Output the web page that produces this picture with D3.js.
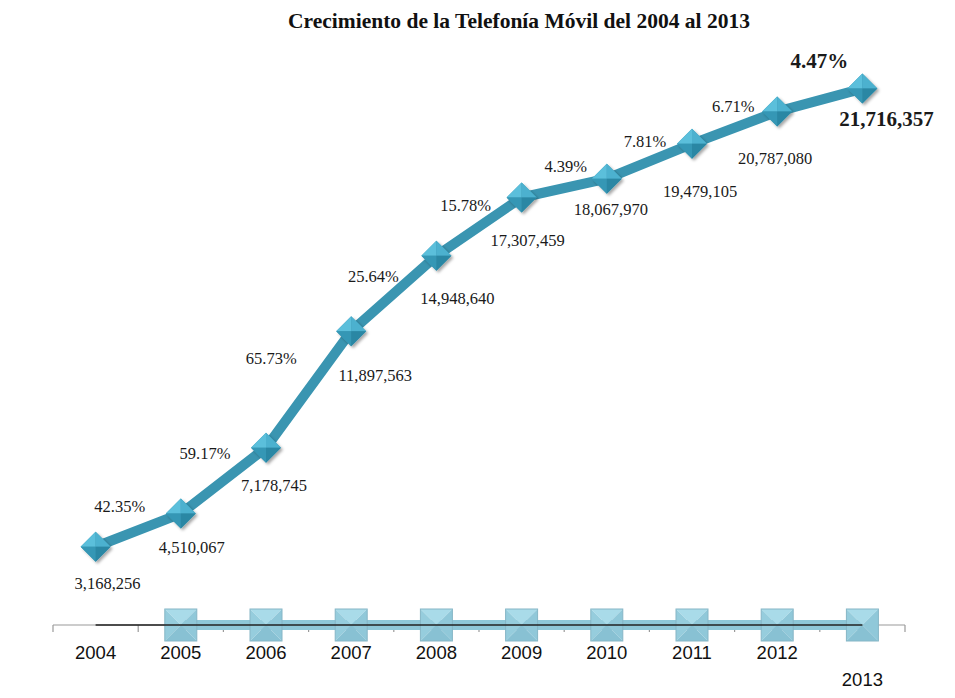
<!DOCTYPE html>
<html>
<head>
<meta charset="utf-8">
<title>Crecimiento de la Telefonía Móvil</title>
<script src="https://d3js.org/d3.v7.min.js"></script>
<style>
  body { margin: 0; background: #fff; }
  svg { display: block; }
</style>
</head>
<body>
<div id="chart"></div>
<script>
// datos
var years = ["2004", "2005", "2006", "2007", "2008", "2009", "2010", "2011", "2012", "2013"];
var lines = [3168256, 4510067, 7178745, 11897563, 14948640, 17307459, 18067970, 19479105, 20787080, 21716357];
var growth = [null, 42.35, 59.17, 65.73, 25.64, 15.78, 4.39, 7.81, 6.71, 4.47];

// posición de las etiquetas respecto al marcador (dx, dy)
var pctOffsets = [[0, 0], [-61, -7], [-61, 6], [-80, 27], [-63, 20], [-56, 8], [-41, -12], [-47, -3], [-44, -5], [-43, -28]];
var valOffsets = [[12, 36], [11, 34], [8, 38], [24, 44], [21, 42], [6, 43], [4, 31], [8, 47], [-2, 47], [24, 30]];

var width = 955, height = 698;

var svg = d3.select("#chart").append("svg")
    .attr("width", width)
    .attr("height", height);

var defs = svg.append("defs");
var shadow = defs.append("filter").attr("id", "shadow")
    .attr("x", "-30%").attr("y", "-30%").attr("width", "170%").attr("height", "170%");
shadow.append("feDropShadow")
    .attr("dx", 2).attr("dy", 2).attr("stdDeviation", 1.5)
    .attr("flood-color", "#000").attr("flood-opacity", 0.35);

var x = d3.scaleBand().domain(years).range([53, 905]);
var y = d3.scaleLinear().domain([0, 25000000]).range([625, 7.5]);
var cx = function(d) { return x(d) + x.bandwidth() / 2; };

// título
svg.append("text")
    .attr("x", 519).attr("y", 28)
    .attr("text-anchor", "middle")
    .style("font-family", "'Liberation Serif', 'Times New Roman', serif")
    .style("font-weight", "bold")
    .style("font-size", "21.5px")
    .style("fill", "#111")
    .text("Crecimiento de la Telefonía Móvil del 2004 al 2013");

// eje inferior
var axisG = svg.append("g").attr("transform", "translate(0," + y(0) + ")");
axisG.append("line")
    .attr("x1", 53).attr("x2", 905)
    .attr("stroke", "#9a9a9a").attr("stroke-width", 1.2);
var edges = years.map(function(d) { return x(d); }).concat([x.range()[1]]);
axisG.selectAll(".tick").data(edges).enter().append("line")
    .attr("x1", function(d) { return d; }).attr("x2", function(d) { return d; })
    .attr("y1", 0).attr("y2", 7)
    .attr("stroke", "#9a9a9a").attr("stroke-width", 1.2);

// banda celeste y cuadros
axisG.append("line")
    .attr("x1", cx(years[1])).attr("x2", cx(years[years.length - 1]))
    .attr("stroke", "#8ec7d8").attr("stroke-width", 10);

var sq = 16;
var squares = axisG.selectAll(".sq").data(years.slice(1)).enter().append("g")
    .attr("transform", function(d) { return "translate(" + cx(d) + ",0)"; });
var sqFaces = [
    { p: [[-sq, -sq], [sq, -sq], [0, 0]], c: "#a9dbe9" },
    { p: [[-sq, -sq], [-sq, sq], [0, 0]], c: "#96cddd" },
    { p: [[sq, -sq], [sq, sq], [0, 0]], c: "#90c8d9" },
    { p: [[-sq, sq], [sq, sq], [0, 0]], c: "#88c1d3" }
];
sqFaces.forEach(function(f) {
    squares.append("path")
        .attr("d", "M" + f.p.join("L") + "Z")
        .attr("fill", f.c);
});
squares.append("rect")
    .attr("x", -sq).attr("y", -sq).attr("width", sq * 2).attr("height", sq * 2)
    .attr("fill", "none").attr("stroke", "#86b6c6").attr("stroke-width", 1);

axisG.append("line")
    .attr("x1", cx(years[0])).attr("x2", cx(years[years.length - 1]))
    .attr("stroke", "#222").attr("stroke-width", 1.3);

// etiquetas del eje
svg.selectAll(".yr").data(years).enter().append("text")
    .attr("x", function(d) { return cx(d); })
    .attr("y", function(d, i) { return i === years.length - 1 ? 686 : 659; })
    .attr("text-anchor", "middle")
    .style("font-family", "'Liberation Sans', Arial, sans-serif")
    .style("font-size", "18.5px")
    .style("fill", "#111")
    .text(function(d) { return d; });

// línea principal
var line = d3.line()
    .x(function(d, i) { return cx(years[i]); })
    .y(function(d) { return y(d); });

svg.append("path")
    .datum(lines)
    .attr("d", line)
    .attr("fill", "none")
    .attr("stroke", "#3a95b1")
    .attr("stroke-width", 10)
    .attr("stroke-linejoin", "round");

// marcadores en rombo
var r = 15;
var markers = svg.selectAll(".mk").data(lines).enter().append("g")
    .attr("transform", function(d, i) { return "translate(" + cx(years[i]) + "," + y(d) + ")"; });
markers.append("path")
    .attr("d", "M0," + (-r) + "L" + r + ",0L0," + r + "L" + (-r) + ",0Z")
    .attr("fill", "#3a95b1")
    .attr("filter", "url(#shadow)");
var dmFaces = [
    { p: [[0, -r], [-r, 0], [0, 0]], c: "#5bbfdb" },
    { p: [[0, -r], [r, 0], [0, 0]], c: "#4cb1cf" },
    { p: [[-r, 0], [0, r], [0, 0]], c: "#3597b5" },
    { p: [[r, 0], [0, r], [0, 0]], c: "#2a87a4" }
];
dmFaces.forEach(function(f) {
    markers.append("path")
        .attr("d", "M" + f.p.join("L") + "Z")
        .attr("fill", f.c);
});

// etiquetas de valores
var fmt = d3.format(",");
var last = lines.length - 1;
svg.selectAll(".val").data(lines).enter().append("text")
    .attr("x", function(d, i) { return cx(years[i]) + valOffsets[i][0]; })
    .attr("y", function(d, i) { return y(d) + valOffsets[i][1]; })
    .attr("dy", "0.35em")
    .attr("text-anchor", "middle")
    .style("font-family", "'Liberation Serif', 'Times New Roman', serif")
    .style("font-size", function(d, i) { return i === last ? "21px" : "16.5px"; })
    .style("font-weight", function(d, i) { return i === last ? "bold" : "normal"; })
    .style("fill", "#1a1a1a")
    .text(function(d) { return fmt(d); });

// etiquetas de crecimiento
svg.selectAll(".pct").data(growth).enter().append("text")
    .attr("x", function(d, i) { return cx(years[i]) + pctOffsets[i][0]; })
    .attr("y", function(d, i) { return y(lines[i]) + pctOffsets[i][1]; })
    .attr("dy", "0.35em")
    .attr("text-anchor", "middle")
    .style("font-family", "'Liberation Serif', 'Times New Roman', serif")
    .style("font-size", function(d, i) { return i === last ? "21px" : "16.5px"; })
    .style("font-weight", function(d, i) { return i === last ? "bold" : "normal"; })
    .style("fill", "#1a1a1a")
    .text(function(d) { return d === null ? "" : d.toFixed(2) + "%"; });
</script>
</body>
</html>
